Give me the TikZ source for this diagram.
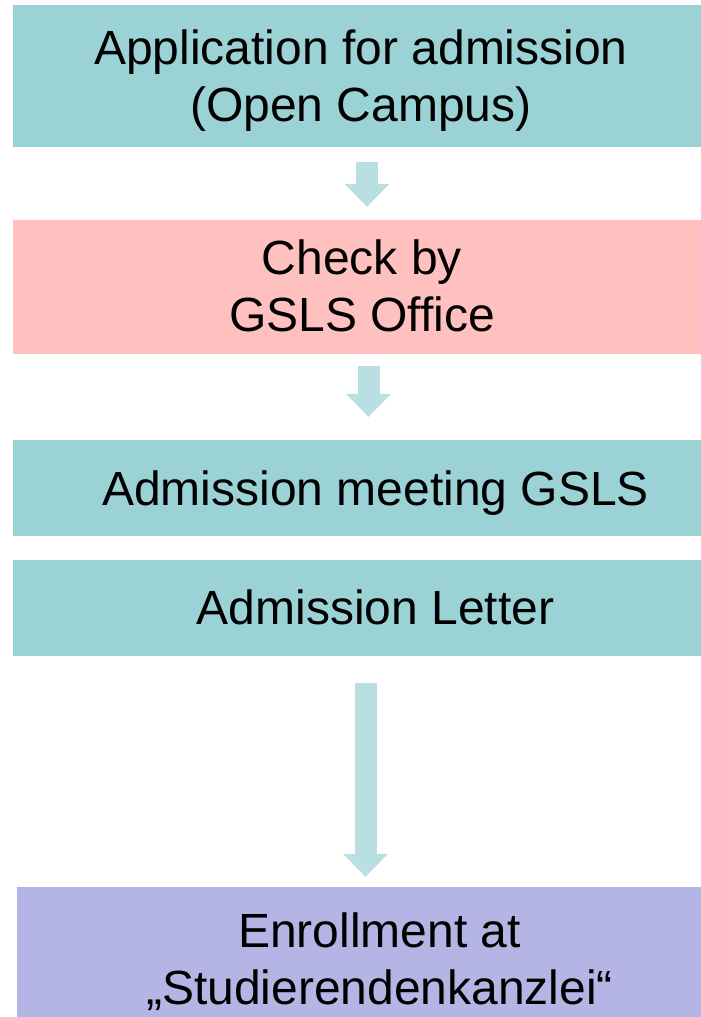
\documentclass[tikz,border=0pt]{standalone}
\usepackage{fontspec}
\setmainfont{Liberation Sans}
\usetikzlibrary{arrows.meta}

\definecolor{stepteal}{HTML}{9BD2D6}
\definecolor{steppink}{HTML}{FFC0C0}
\definecolor{steplilac}{HTML}{B5B5E5}
\definecolor{flowblue}{HTML}{B9DFE3}

\begin{document}
\begin{tikzpicture}[x=1pt,y=-1pt,
                    main box/.style={rectangle, inner sep=0pt, minimum width=688pt},
                    main text/.style={inner sep=0pt, align=center, font=\fontsize{48}{56.7}\selectfont},
                    flow/.style={draw=flowblue, line width=22pt,
                                 -{Triangle[width=45pt,length=23pt,line width=0pt]}}]

  \useasboundingbox (0,0) rectangle (701,1017);

  %Boxes%
  \node[main box, fill=stepteal, minimum height=142pt] (apply) at (357,76) {};
  \node[main box, fill=steppink, minimum height=134pt] (check) at (357,286.5) {};
  \node[main box, fill=stepteal, minimum height=96pt] (meet) at (357,487.5) {};
  \node[main box, fill=stepteal, minimum height=96pt] (letter) at (357,607.5) {};
  \node[main box, fill=steplilac, minimum height=130pt, minimum width=684pt] (enrol) at (359,952) {};

  %Texts%
  \node[main text] (applytext) at (361,80.5) {Application for admission\\(Open Campus)};
  \node[main text] (checktext) at (362,286) {Check by\\GSLS Office};
  \node[main text] (meettext) at (375.5,493) {Admission meeting GSLS};
  \node[main text] (lettertext) at (375.5,607.5) {Admission Letter};
  \node[main text] (enroltext) at (379.5,961.5) {Enrollment at\\„Studierendenkanzlei“};

  %Arrows%
  \coordinate (c1) at (367,0);
  \coordinate (c2) at (368.5,0);
  \coordinate (c3) at (365.5,0);
  \draw[flow, shorten <=15pt, shorten >=12.5pt] (apply.south -| c1) -- (check.north -| c1);
  \draw[flow, shorten <=12.5pt, shorten >=22.5pt] (check.south -| c2) -- (meet.north -| c2);
  \draw[flow, shorten <=27.5pt, shorten >=10pt] (letter.south -| c3) -- (enrol.north -| c3);
\end{tikzpicture}
\end{document}
